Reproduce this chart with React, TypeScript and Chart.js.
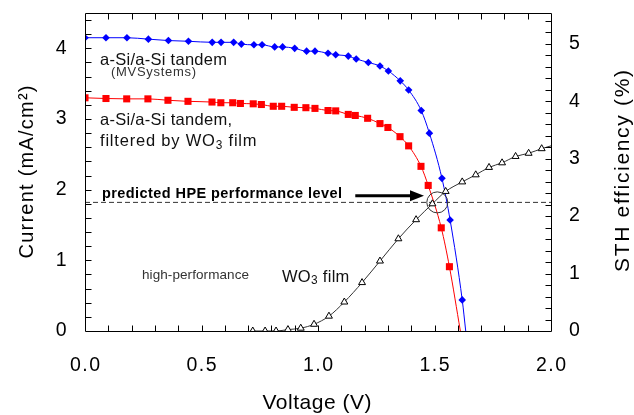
import { useEffect, useRef } from 'react';
import { Chart, registerables } from 'chart.js';

Chart.register(...registerables);

// ---- data ----
const tandemVoltage = [0, 0.09, 0.18, 0.272, 0.358, 0.444, 0.546, 0.584, 0.638, 0.671, 0.725, 0.76, 0.814, 0.848, 0.9, 0.951, 0.987, 1.043, 1.076, 1.13, 1.164, 1.216, 1.266, 1.302, 1.353, 1.389, 1.443, 1.478, 1.532, 1.567, 1.619, 1.634];
const tandemCurrent = [4.15, 4.15, 4.15, 4.13, 4.11, 4.1, 4.085, 4.085, 4.085, 4.06, 4.05, 4.05, 4.02, 4.02, 4.0, 3.96, 3.96, 3.93, 3.91, 3.89, 3.85, 3.8, 3.75, 3.68, 3.54, 3.41, 3.12, 2.8, 2.16, 1.57, 0.44, 0];

const filteredVoltage = [0, 0.09, 0.179, 0.27, 0.356, 0.442, 0.545, 0.583, 0.634, 0.667, 0.722, 0.757, 0.808, 0.844, 0.898, 0.948, 0.987, 1.043, 1.076, 1.13, 1.16, 1.213, 1.266, 1.3, 1.352, 1.389, 1.442, 1.473, 1.529, 1.564, 1.611];
const filteredCurrent = [3.3, 3.29, 3.285, 3.285, 3.265, 3.25, 3.24, 3.23, 3.23, 3.22, 3.215, 3.205, 3.18, 3.18, 3.165, 3.16, 3.15, 3.12, 3.115, 3.065, 3.05, 3.01, 2.935, 2.88, 2.75, 2.62, 2.33, 2.06, 1.46, 0.91, 0];

const wo3Voltage = [0.72, 0.773, 0.82, 0.871, 0.926, 0.983, 1.047, 1.113, 1.189, 1.266, 1.345, 1.421, 1.491, 1.548, 1.619, 1.677, 1.734, 1.79, 1.848, 1.904, 1.96, 2.0];
const wo3Current = [0, 0, 0, 0.02, 0.04, 0.095, 0.21, 0.41, 0.685, 0.99, 1.305, 1.575, 1.8, 1.975, 2.11, 2.21, 2.315, 2.38, 2.47, 2.515, 2.58, 2.62];

const hpeCurrent = 1.82;
const hpeVoltage = 1.512;
const arrowFrom = 1.16;
const arrowTo = 1.455;
const arrowCurrent = 1.915;

const voltageMin = 0;
const voltageMax = 2;
const currentMin = 0;
const currentMax = 4.5;
const sthPerCurrent = 1.23; // STH % per mA/cm2
const voltageStep = 0.5;
const voltageMinorStep = 0.1;
const currentMinorStep = 0.2;
const sthMinorStep = 0.2;

const FONT = "'Liberation Sans', Arial, Helvetica, sans-serif";

type TextOpts = { bold?: boolean; width?: number; ls?: number; align?: 'left' | 'center' | 'right'; color?: string };

function drawText(ctx: CanvasRenderingContext2D, s: string, x: number, y: number, size: number, opts: TextOpts = {}) {
  const { bold = false, width, ls = 0, align = 'left', color = '#000' } = opts;
  ctx.font = `${bold ? 'bold ' : ''}${size}px ${FONT}`;
  (ctx as any).letterSpacing = '0px';
  const n = Array.from(s).length;
  const w0 = ctx.measureText(s).width;
  let spacing = ls;
  if (width !== undefined && n > 1) spacing = (width - w0) / (n - 1);
  (ctx as any).letterSpacing = spacing + 'px';
  const visW = w0 + spacing * (n - 1);
  let x0 = x;
  if (align === 'center') x0 = x - visW / 2;
  else if (align === 'right') x0 = x - visW;
  ctx.textAlign = 'left';
  ctx.textBaseline = 'middle';
  ctx.fillStyle = color;
  ctx.fillText(s, x0, y);
  (ctx as any).letterSpacing = '0px';
  return x0 + visW + spacing;
}

function drawSubText(ctx: CanvasRenderingContext2D, parts: [string, boolean][], x: number, y: number, size: number, ls: number, color = '#000') {
  let cx = x;
  for (const [s, sub] of parts) {
    if (sub) cx = drawText(ctx, s, cx, y + size * 0.25, size * 0.72, { ls, color });
    else cx = drawText(ctx, s, cx, y, size, { ls, color });
  }
}

const decoPlugin = {
  id: 'deco',
  afterDraw(chart: any) {
    const { ctx, chartArea: a, scales } = chart;
    const xs = scales.x, ys = scales.y, y2 = scales.y2;
    ctx.save();
    // frame
    ctx.strokeStyle = '#000';
    ctx.lineWidth = 1;
    const L = Math.round(a.left) + 0.5, R = Math.round(a.right) + 0.5, T = Math.round(a.top) + 0.5, B = Math.round(a.bottom) + 0.5;
    ctx.beginPath();
    ctx.rect(L, T, R - L, B - T);
    // inward minor ticks
    const nx = Math.round((voltageMax - voltageMin) / voltageMinorStep);
    for (let i = 1; i < nx; i++) {
      const px = Math.round(xs.getPixelForValue(voltageMin + i * voltageMinorStep)) + 0.5;
      ctx.moveTo(px, B); ctx.lineTo(px, B - 6);
      ctx.moveTo(px, T); ctx.lineTo(px, T + 6);
    }
    const ny = Math.floor((currentMax - currentMin) / currentMinorStep + 1e-6);
    for (let i = 1; i <= ny; i++) {
      const py = Math.round(ys.getPixelForValue(currentMin + i * currentMinorStep)) + 0.5;
      ctx.moveTo(L, py); ctx.lineTo(L + 6, py);
    }
    const sthMax = currentMax * sthPerCurrent;
    const n2 = Math.floor(sthMax / sthMinorStep + 1e-6);
    for (let i = 1; i <= n2; i++) {
      const py = Math.round(y2.getPixelForValue(i * sthMinorStep)) + 0.5;
      ctx.moveTo(R, py); ctx.lineTo(R - 6, py);
    }
    ctx.stroke();

    // tick labels from the scales
    for (const t of xs.ticks) {
      drawText(ctx, Number(t.value).toFixed(1), xs.getPixelForValue(t.value), 366, 19.5, { ls: 1.5, align: 'center' });
    }
    for (const t of ys.ticks) {
      drawText(ctx, String(t.value), 66.5, ys.getPixelForValue(t.value), 19.5, { align: 'right' });
    }
    for (const t of y2.ticks) {
      drawText(ctx, String(t.value), 569, y2.getPixelForValue(t.value), 19.5, { align: 'left' });
    }

    // axis titles
    drawText(ctx, 'Voltage (V)', 317, 403, 21, { width: 109, align: 'center' });
    ctx.save();
    ctx.translate(27, 172);
    ctx.rotate(-Math.PI / 2);
    drawText(ctx, 'Current (mA/cm\u00B2)', 0, 0, 20, { width: 173, align: 'center' });
    ctx.restore();
    ctx.save();
    ctx.translate(623, 171);
    ctx.rotate(-Math.PI / 2);
    drawText(ctx, 'STH efficiency (%)', 0, 0, 21, { width: 202, align: 'center' });
    ctx.restore();

    // annotations
    drawText(ctx, 'a-Si/a-Si tandem', 100, 60, 16.5, { width: 127, color: '#111' });
    drawText(ctx, '(MVSystems)', 111, 72.5, 13, { width: 85, color: '#333' });
    drawText(ctx, 'a-Si/a-Si tandem,', 100, 120, 16.5, { width: 132, color: '#111' });
    drawSubText(ctx, [['filtered by WO', false], ['3', true], [' film', false]], 100, 141.5, 16.5, 0.8, '#111');
    drawText(ctx, 'predicted HPE performance level', 102, 194, 14.5, { bold: true, width: 240 });
    drawText(ctx, 'high-performance', 142, 275, 13.5, { width: 107, color: '#333' });
    drawSubText(ctx, [['WO', false], ['3', true], [' film', false]], 282, 277, 16.5, 0.3, '#111');

    // arrow
    const ax0 = xs.getPixelForValue(arrowFrom);
    const ax1 = xs.getPixelForValue(arrowTo);
    const ay = ys.getPixelForValue(arrowCurrent);
    ctx.strokeStyle = '#000';
    ctx.fillStyle = '#000';
    ctx.lineWidth = 3;
    ctx.beginPath();
    ctx.moveTo(ax0, ay);
    ctx.lineTo(ax1 - 12, ay);
    ctx.stroke();
    ctx.beginPath();
    ctx.moveTo(ax1, ay);
    ctx.lineTo(ax1 - 14, ay - 5.5);
    ctx.lineTo(ax1 - 14, ay + 5.5);
    ctx.closePath();
    ctx.fill();
    ctx.restore();
  },
};

export default function App() {
  const ref = useRef<HTMLCanvasElement>(null);
  useEffect(() => {
    const canvas = ref.current;
    if (!canvas) return;
    const pts = (xs: number[], ys: number[]) => xs.map((x, i) => ({ x, y: ys[i] }));
    const radii = (n: number, r: number) => Array.from({ length: n }, (_, i) => (i === n - 1 ? 0 : r));

    const chart = new Chart(canvas, {
      type: 'scatter',
      data: {
        datasets: [
          {
            label: 'HPE point',
            data: [{ x: hpeVoltage, y: hpeCurrent }],
            showLine: false,
            pointStyle: 'circle',
            pointRadius: 10.5,
            borderColor: '#333',
            borderWidth: 1,
            backgroundColor: 'rgba(0,0,0,0)',
          },
          {
            label: 'WO3 film',
            data: pts(wo3Voltage, wo3Current),
            showLine: true,
            cubicInterpolationMode: 'monotone',
            borderColor: '#333',
            borderWidth: 1,
            pointStyle: 'triangle',
            pointRadius: radii(wo3Voltage.length, 4),
            pointBorderColor: '#000',
            pointBackgroundColor: '#fff',
            pointBorderWidth: 1,
          },
          {
            label: 'a-Si/a-Si tandem, filtered by WO3 film',
            data: pts(filteredVoltage, filteredCurrent),
            showLine: true,
            cubicInterpolationMode: 'monotone',
            borderColor: '#ff0000',
            borderWidth: 1,
            pointStyle: 'rect',
            pointRadius: radii(filteredVoltage.length, 5),
            pointBorderColor: '#ff0000',
            pointBackgroundColor: '#ff0000',
            pointBorderWidth: 0,
          },
          {
            label: 'a-Si/a-Si tandem',
            data: pts(tandemVoltage, tandemCurrent),
            showLine: true,
            cubicInterpolationMode: 'monotone',
            borderColor: '#0000ff',
            borderWidth: 1,
            pointStyle: 'rectRot',
            pointRadius: radii(tandemVoltage.length, 3.8),
            pointBorderColor: '#0000ff',
            pointBackgroundColor: '#0000ff',
            pointBorderWidth: 0,
          },
          {
            label: 'predicted HPE performance level',
            data: [{ x: voltageMin, y: hpeCurrent }, { x: voltageMax, y: hpeCurrent }],
            showLine: true,
            borderColor: '#333',
            borderWidth: 1,
            borderDash: [5, 3],
            pointRadius: 0,
          },
        ],
      },
      options: {
        animation: false,
        responsive: false,
        devicePixelRatio: 1,
        layout: { padding: { top: 13, left: 0, right: 0, bottom: 0 } },
        plugins: { legend: { display: false }, tooltip: { enabled: false } },
        events: [],
        scales: {
          x: {
            type: 'linear',
            position: 'bottom',
            min: voltageMin,
            max: voltageMax,
            ticks: { stepSize: voltageStep, display: false },
            grid: { display: false, drawTicks: false },
            border: { display: false },
            afterFit: (s: any) => { s.height = 84; },
          },
          y: {
            type: 'linear',
            position: 'left',
            min: currentMin,
            max: currentMax,
            ticks: { stepSize: 1, display: false, includeBounds: false },
            grid: { display: false, drawTicks: false },
            border: { display: false },
            afterFit: (s: any) => { s.width = 85; },
          },
          y2: {
            type: 'linear',
            position: 'right',
            min: 0,
            max: currentMax * sthPerCurrent,
            ticks: { stepSize: 1, display: false, includeBounds: false },
            grid: { display: false, drawTicks: false },
            border: { display: false },
            afterFit: (s: any) => { s.width = 83; },
          },
        },
      } as any,
      plugins: [decoPlugin],
    });
    return () => chart.destroy();
  }, []);

  return (
    <div style={{ position: 'absolute', left: 0, top: 0, width: 634, height: 415, background: '#fff' }}>
      <canvas ref={ref} width={634} height={415} style={{ display: 'block', width: 634, height: 415 }} />
    </div>
  );
}
